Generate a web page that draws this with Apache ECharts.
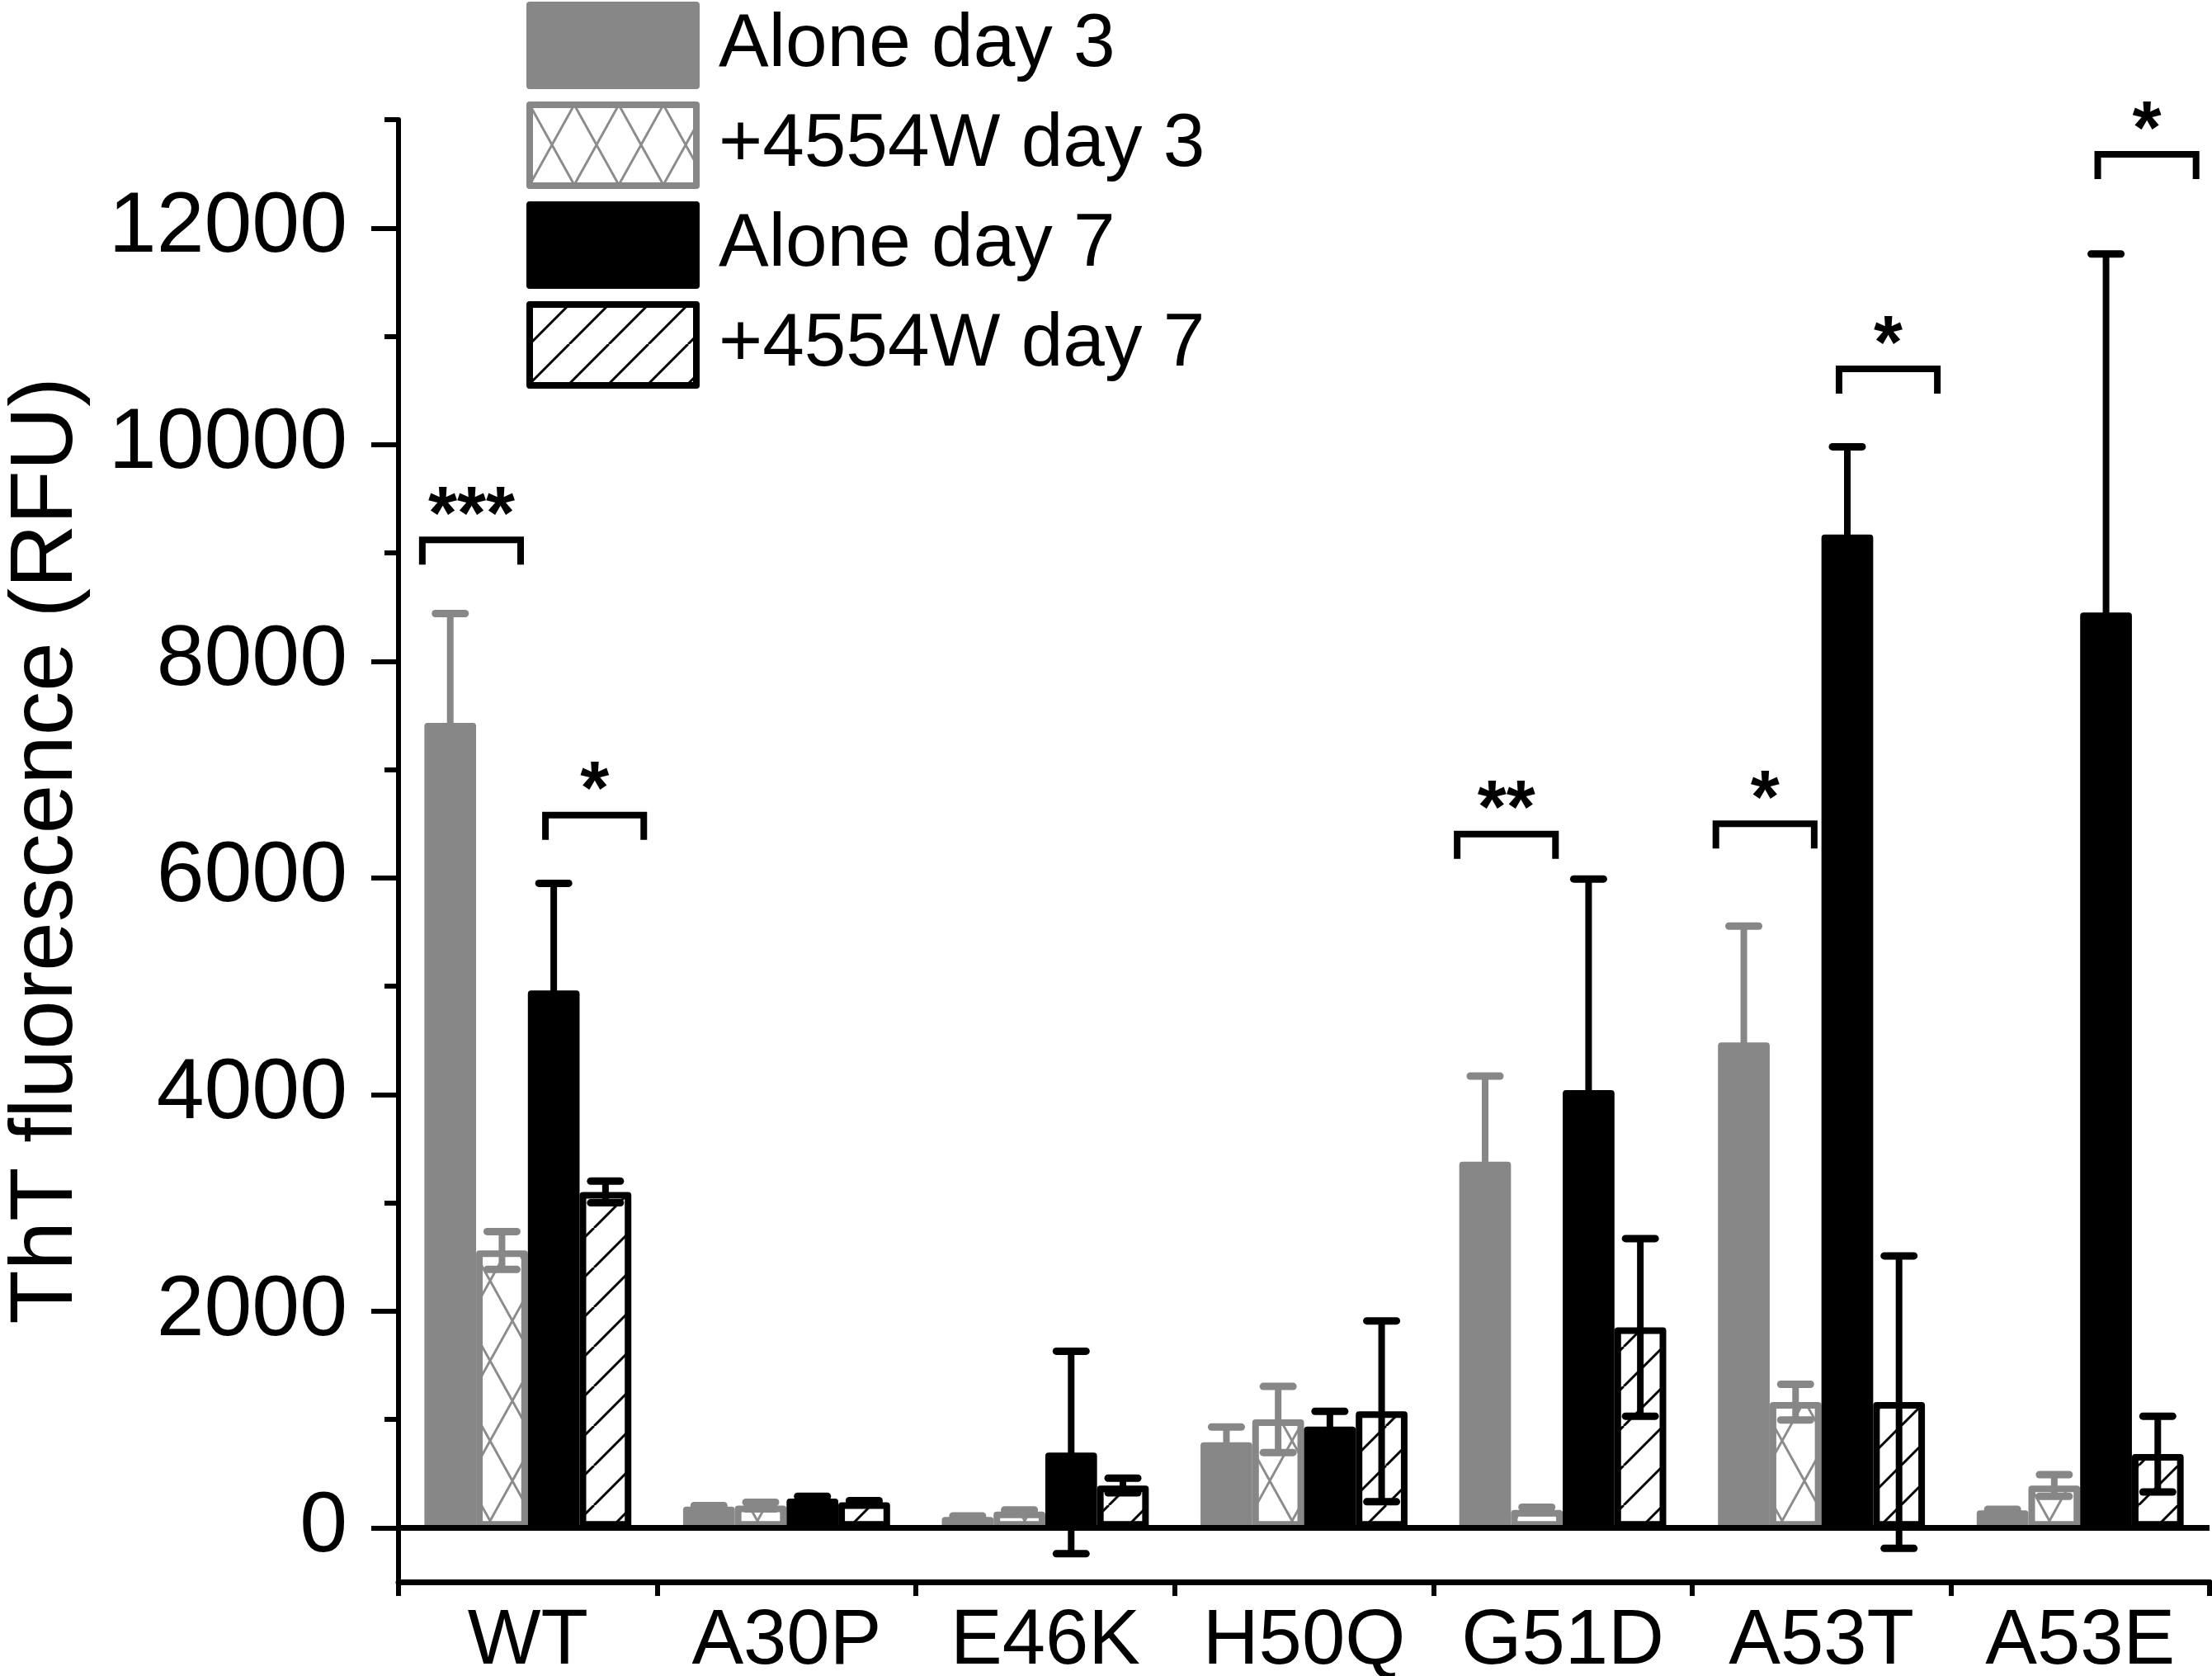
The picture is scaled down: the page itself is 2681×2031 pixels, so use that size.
<!DOCTYPE html>
<html>
<head>
<meta charset="utf-8">
<script src="https://cdn.jsdelivr.net/npm/echarts@6/dist/echarts.min.js"></script>
<style>
  html, body { margin: 0; padding: 0; background: #fff; }
  #chart { width: 2681px; height: 2031px; }
</style>
</head>
<body>
<div id="chart"></div>
<script>
const categories = ['WT', 'A30P', 'E46K', 'H50Q', 'G51D', 'A53T', 'A53E'];
const seriesNames = ['Alone day 3', '+4554W day 3', 'Alone day 7', '+4554W day 7'];

const aloneDay3 = [7430, 195, 100, 790, 3380, 4480, 160];
const aloneDay3Err = [1010, 10, 10, 140, 790, 1075, 10];
const drugDay3 = [2560, 205, 150, 1000, 165, 1160, 390];
const drugDay3Err = [175, 30, 15, 305, 25, 165, 100];
const aloneDay7 = [4960, 270, 695, 935, 4040, 9170, 8450];
const aloneDay7Err = [990, 20, 935, 140, 1950, 810, 3310];
const drugDay7 = [3100, 235, 390, 1075, 1850, 1160, 680];
const drugDay7Err = [100, 15, 68, 835, 820, 1350, 350];

const yTickValues = [0, 2000, 4000, 6000, 8000, 10000, 12000];
const yMinorTickValues = [1000, 3000, 5000, 7000, 9000, 11000, 13000];

// significance brackets: category, from bar, to bar, height, stars
const bracketCats = [0, 0, 4, 5, 5, 6];
const bracketFrom = [0, 2, 0, 0, 2, 2];
const bracketTo = [1, 3, 1, 1, 3, 3];
const bracketHeights = [9120, 6580, 6405, 6500, 10700, 12680];
const bracketStars = ['***', '*', '**', '*', '*', '*'];

const FONT = '"Liberation Sans", Arial, sans-serif';
const GRAY = '#878787';
const BAR_FRAC = 0.2;

// tile for hatch fills, "/" lines and optionally "\" too
function makeTile(w, h, color, lw, both) {
    const c = document.createElement('canvas');
    c.width = w; c.height = h;
    const g = c.getContext('2d');
    g.fillStyle = '#fff';
    g.fillRect(0, 0, w, h);
    g.strokeStyle = color;
    g.lineWidth = lw;
    g.beginPath();
    for (const dx of [-w, 0, w]) {
        g.moveTo(dx, h); g.lineTo(dx + w, 0);
        if (both) { g.moveTo(dx, 0); g.lineTo(dx + w, h); }
    }
    g.stroke();
    return c;
}

const crossFill = { image: makeTile(54, 97, '#8c8c8c', 3, true), repeat: 'repeat' };
const hatchFill = { image: makeTile(48, 48, '#000', 3, false), repeat: 'repeat' };

const barValues = [aloneDay3, drugDay3, aloneDay7, drugDay7];
const barErrs = [aloneDay3Err, drugDay3Err, aloneDay7Err, drugDay7Err];
const fills = [GRAY, crossFill, '#000', hatchFill];
const edges = [GRAY, GRAY, '#000', '#000'];

const errData = [];
barValues.forEach((vals, k) => {
    vals.forEach((v, i) => errData.push([i, v, barErrs[k][i], k]));
});

const bracketData = bracketCats.map((c, n) => [c, bracketHeights[n], bracketFrom[n], bracketTo[n]]);

var myChart = echarts.init(document.getElementById('chart'));

const series = barValues.map((vals, k) => ({
    type: 'bar',
    name: seriesNames[k],
    data: vals,
    barWidth: (BAR_FRAC * 100) + '%',
    barGap: '0%',
    itemStyle: { color: fills[k], borderColor: edges[k], borderWidth: 8, borderJoin: 'round' },
    z: 2
}));

series[0].markLine = {
    silent: true,
    symbol: ['none', 'none'],
    label: { show: false },
    lineStyle: { color: '#000', width: 7, type: 'solid' },
    data: [{ yAxis: 0 }],
    z: 4
};

series.push({
    type: 'custom',
    silent: true,
    z: 5,
    data: errData,
    encode: { x: 0, y: 1 },
    renderItem: function (params, api) {
        const cat = api.value(0), mean = api.value(1), err = api.value(2), k = api.value(3);
        const bw = api.size([1, 0])[0] * BAR_FRAC;
        const x = api.coord([cat, mean])[0] + (k - 1.5) * bw;
        const yHi = api.coord([cat, mean + err])[1];
        const yLo = api.coord([cat, mean - err])[1];
        const color = k < 2 ? GRAY : '#000';
        const capStyle = { stroke: color, lineWidth: 9, lineCap: 'round' };
        return {
            type: 'group',
            children: [
                { type: 'line', shape: { x1: x, y1: yHi, x2: x, y2: yLo }, style: { stroke: color, lineWidth: 8 } },
                { type: 'line', shape: { x1: x - 18, y1: yHi, x2: x + 18, y2: yHi }, style: capStyle },
                { type: 'line', shape: { x1: x - 18, y1: yLo, x2: x + 18, y2: yLo }, style: capStyle }
            ]
        };
    }
});

series.push({
    type: 'custom',
    silent: true,
    z: 6,
    data: bracketData,
    encode: { x: 0, y: 1 },
    renderItem: function (params, api) {
        const cat = api.value(0), h = api.value(1), a = api.value(2), b = api.value(3);
        const bw = api.size([1, 0])[0] * BAR_FRAC;
        const p = api.coord([cat, h]);
        // brackets sit a little wider apart than the bars themselves
        const x0 = p[0] + (1.19 * (a - 1.5) - 0.255) * bw;
        const x1 = p[0] + (1.19 * (b - 1.5) + 0.455) * bw;
        const y = p[1];
        return {
            type: 'group',
            children: [
                {
                    type: 'polyline',
                    shape: { points: [[x0, y + 30], [x0, y], [x1, y], [x1, y + 30]] },
                    style: { stroke: '#000', lineWidth: 8, fill: null, lineJoin: 'miter' }
                },
                {
                    type: 'text',
                    x: (x0 + x1) / 2,
                    y: y - 26,
                    style: {
                        text: bracketStars[params.dataIndex],
                        fontSize: 90, fontWeight: 'bold', fontFamily: FONT, fill: '#000',
                        align: 'center', verticalAlign: 'middle'
                    }
                }
            ]
        };
    }
});

const option = {
    animation: false,
    backgroundColor: '#fff',
    textStyle: { fontFamily: FONT },
    grid: { left: 483, right: 3, top: 145, bottom: 114, containLabel: false, outerBoundsMode: 'none' },
    legend: {
        data: seriesNames,
        orient: 'vertical',
        left: 638,
        top: 2,
        padding: 0,
        itemWidth: 202,
        itemHeight: 98,
        itemGap: 15,
        icon: 'rect',
        selectedMode: false,
        itemStyle: { borderWidth: 8 },
        textStyle: { fontSize: 91, color: '#000', fontFamily: FONT, padding: [0, 0, 0, 22] }
    },
    xAxis: {
        type: 'category',
        data: categories,
        boundaryGap: true,
        axisLine: { onZero: false, lineStyle: { color: '#000', width: 7 } },
        axisTick: { show: true, interval: 0, alignWithLabel: false, length: 17, lineStyle: { color: '#000', width: 6 } },
        axisLabel: { interval: 0, fontSize: 94, color: '#000', fontFamily: FONT, margin: 26 },
        splitLine: { show: false }
    },
    yAxis: [
        {
            type: 'value',
            min: -500,
            max: 13000,
            name: 'ThT fluorescence (RFU)',
            nameLocation: 'middle',
            nameRotate: 90,
            nameGap: 372,
            nameTextStyle: { fontSize: 107, color: '#000', fontFamily: FONT },
            axisLine: { show: true, lineStyle: { color: '#000', width: 6 } },
            axisTick: { show: true, length: 33, customValues: yTickValues, lineStyle: { color: '#000', width: 6 } },
            axisLabel: {
                customValues: yTickValues,
                fontSize: 104, color: '#000', fontFamily: FONT, margin: 62,
                formatter: v => String(v)
            },
            splitLine: { show: false }
        },
        {
            type: 'value',
            min: -500,
            max: 13000,
            position: 'left',
            axisLine: { show: false },
            axisTick: { show: true, length: 17, customValues: yMinorTickValues, lineStyle: { color: '#000', width: 6 } },
            axisLabel: { show: false },
            splitLine: { show: false }
        }
    ],
    series: series
};

myChart.setOption(option);
</script>
</body>
</html>
